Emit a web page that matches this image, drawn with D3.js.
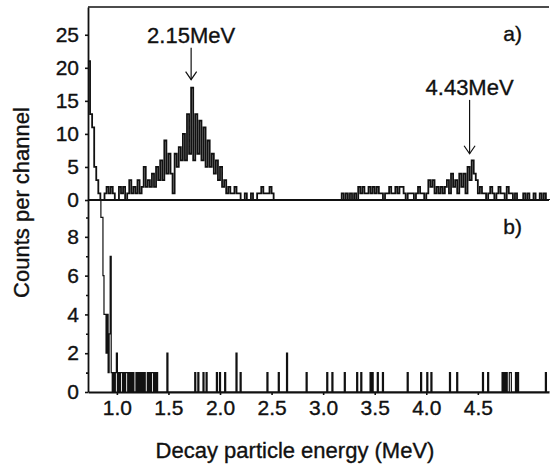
<!DOCTYPE html>
<html>
<head>
<meta charset="utf-8">
<script src="https://cdn.jsdelivr.net/npm/d3@7"></script>
<style>
  html, body { margin: 0; padding: 0; background: #fff; }
  svg { display: block; }
  text { font-family: "Liberation Sans", Arial, Helvetica, sans-serif; fill: #111; stroke: #111; stroke-width: 0.35px; }
</style>
</head>
<body>
<svg id="chart" width="550" height="469"></svg>
<script>
// ---------------- data ----------------
// Panel a): counts per channel, channels of 0.02 MeV starting at 0.72 MeV
const topStart = 0.72;
const topWidth = 0.02;
const topCounts = [
  21,13,11,5,3,1,0,0,1,2, 1,2,1,0,0,2,1,2,0,1,
  3,1,2,1,3,1,2,5,2,3, 2,4,2,5,3,6,3,9,4,7,
  4,1,7,5,8,6,10,6,13,7, 17,6,13,7,12,6,11,5,9,5,
  7,4,6,3,5,2,3,1,2,1, 1,2,1,1,0,0,1,0,0,1,
  0,0,1,1,2,1,1,1,2,1, 0,0,0,0,0,0,0,0,0,0,
  0,0,0,0,0,0,0,0,0,0, 0,0,0,0,0,0,0,0,0,0,
  0,0,0,1,0,1,0,1,0,1, 0,2,1,2,1,1,2,1,2,1,
  2,1,1,0,1,1,2,1,1,2, 1,2,2,1,0,1,1,1,0,1,
  2,1,1,0,1,3,2,3,1,2, 1,2,1,2,3,1,4,2,3,1,
  4,2,4,1,5,3,6,4,3,1, 2,1,1,0,1,2,1,0,1,2,
  1,1,0,2,1,1,0,1,0,0, 0,1,0,1,0,0,1,0,0,1, 0,1,0,0
];

// Panel b): dense start (channels of 0.01 MeV from 0.835 MeV) + isolated events
const bottomStart = 0.835;
const bottomWidth = 0.01;
const bottomDense = [
  12,9,9,6,4,4,2,4,1,3, 7,1,0,1,0,1,2,0,1,0,
  1,1,0,1,0,1,1,0,1,0, 1,0,1,0,0,1,0,1,0,1,
  0,1,0,1,0,0,1,0,1,0, 1,1,0,1,0,1,0
];
const bottomEventE = [1.482,1.756,1.788,1.836,1.869,1.966,1.998,2.047,2.150,2.199,
  2.451,2.560,2.640,2.831,3.032,3.080,3.201,3.323,3.364,3.456,3.476,3.524,3.578,
  3.815,3.943,4.001,4.043,4.227,4.299,4.540,4.592,4.734,4.750,4.776,4.801,4.818,
  4.866,4.883,5.154];
const bottomEventC = [2,1,1,1,1,1,1,1,2,1,
  1,1,2,1,1,1,1,1,1,1,1,1,1,
  1,1,1,1,1,1,1,1,1,1,1,1,1,
  1,1,1];

const xTicks = [1.0,1.5,2.0,2.5,3.0,3.5,4.0,4.5];
const topYTicks = [0,5,10,15,20,25];
const bottomYTicks = [0,2,4,6,8];
const bottomYMinor = [1,3,5,7,9];

const annLabels = ["2.15MeV","4.43MeV"];
const annEnergy = [1.72, 4.42];
const annTip = [18.2, 7.0];
const annText = [23.8, 15.9];

// ---------------- layout ----------------
const svg = d3.select("#chart");
const left = 88, right = 549;
const topY0 = 200, topY1 = 7;
const botY0 = 392, botY1 = 200;

const x = d3.scaleLinear().domain([0.72, 5.19]).range([left, right]);
const yTop = d3.scaleLinear().domain([0, 29.2]).range([topY0, topY1]);
const yBot = d3.scaleLinear().domain([0, 9.9]).range([botY0, botY1]);

const ink = "#111";

// clip paths
const defs = svg.append("defs");
defs.append("clipPath").attr("id","clipTop").append("rect")
  .attr("x", left).attr("y", topY1).attr("width", right-left+1).attr("height", topY0-topY1);
defs.append("clipPath").attr("id","clipBot").append("rect")
  .attr("x", left).attr("y", botY1).attr("width", right-left+1).attr("height", botY0-botY1);

// ---------------- spectra ----------------
const stepLine = (ys) => d3.line().x(d => x(d[0])).y(d => ys(d[1])).curve(d3.curveStepAfter);

const topPts = topCounts.map((c,i) => [topStart + i*topWidth, c]);
topPts.push([topStart + topCounts.length*topWidth, 0]);
svg.append("path").attr("clip-path","url(#clipTop)")
  .attr("d", stepLine(yTop)(topPts))
  .attr("fill","none").attr("stroke",ink).attr("stroke-width",1.8);

// bottom: merge dense + events onto a channel grid
const nCh = Math.round((5.19 - bottomStart)/bottomWidth) + 1;
const botCounts = new Array(nCh).fill(0);
bottomDense.forEach((c,i) => { botCounts[i] = c; });
bottomEventE.forEach((e,j) => {
  const k = Math.round((e - bottomStart)/bottomWidth);
  if (k >= 0 && k < nCh) botCounts[k] += bottomEventC[j];
});
const botPts = botCounts.map((c,i) => [bottomStart + i*bottomWidth, c]);
svg.append("path").attr("clip-path","url(#clipBot)")
  .attr("d", stepLine(yBot)(botPts))
  .attr("fill","none").attr("stroke",ink).attr("stroke-width",1.2);

// ---------------- frame ----------------
svg.append("line").attr("x1",left).attr("x2",right).attr("y1",topY1).attr("y2",topY1)
  .attr("stroke",ink).attr("stroke-width",1.5);
svg.append("line").attr("x1",left).attr("x2",right).attr("y1",topY0).attr("y2",topY0)
  .attr("stroke",ink).attr("stroke-width",1.8);

// ---------------- axes ----------------
function styleAxis(g){
  g.selectAll("path.domain").attr("stroke",ink).attr("stroke-width",1.8);
  g.selectAll(".tick line").attr("stroke",ink).attr("stroke-width",1.6);
  g.selectAll("text").attr("font-size","21px").attr("fill",ink)
    .style("font-family",'"Liberation Sans", Arial, sans-serif');
}

const gTopY = svg.append("g").attr("transform",`translate(${left},0)`)
  .call(d3.axisLeft(yTop).tickValues(topYTicks).tickFormat(d3.format("d"))
        .tickSize(3).tickSizeOuter(0).tickPadding(6));
styleAxis(gTopY);

const gBotY = svg.append("g").attr("transform",`translate(${left},0)`)
  .call(d3.axisLeft(yBot).tickValues(bottomYTicks).tickFormat(d3.format("d"))
        .tickSize(3).tickSizeOuter(0).tickPadding(6));
styleAxis(gBotY);

const gBotMinor = svg.append("g").attr("transform",`translate(${left},0)`)
  .call(d3.axisLeft(yBot).tickValues(bottomYMinor).tickFormat("").tickSize(2).tickSizeOuter(0));
gBotMinor.select("path.domain").remove();
styleAxis(gBotMinor);

const gX = svg.append("g").attr("transform",`translate(0,${botY0})`)
  .call(d3.axisBottom(x).tickValues(xTicks).tickFormat(d3.format(".1f"))
        .tickSize(3).tickSizeOuter(0).tickPadding(5));
styleAxis(gX);

// ---------------- titles ----------------
svg.append("text").attr("transform",`translate(29,${(105+300)/2}) rotate(-90)`)
  .attr("text-anchor","middle").attr("font-size","22px").text("Counts per channel");
svg.append("text").attr("x",295).attr("y",458)
  .attr("text-anchor","middle").attr("font-size","22px").text("Decay particle energy (MeV)");

svg.append("text").attr("x",522).attr("y",41).attr("text-anchor","end")
  .attr("font-size","21px").text("a)");
svg.append("text").attr("x",522).attr("y",234).attr("text-anchor","end")
  .attr("font-size","21px").text("b)");

// ---------------- annotations ----------------
annLabels.forEach((lab,i) => {
  const ax = x(annEnergy[i]);
  const yt = yTop(annText[i]);
  const ytip = yTop(annTip[i]);
  svg.append("text").attr("x",ax).attr("y",yt).attr("text-anchor","middle")
    .attr("font-size","22px").text(lab);
  svg.append("line").attr("x1",ax).attr("x2",ax).attr("y1",yt+5).attr("y2",ytip)
    .attr("stroke",ink).attr("stroke-width",1.2);
  svg.append("path")
    .attr("d",`M${ax-5.5},${ytip-8}L${ax},${ytip}L${ax+5.5},${ytip-8}`)
    .attr("fill","none").attr("stroke",ink).attr("stroke-width",1.2);
});
</script>
</body>
</html>
